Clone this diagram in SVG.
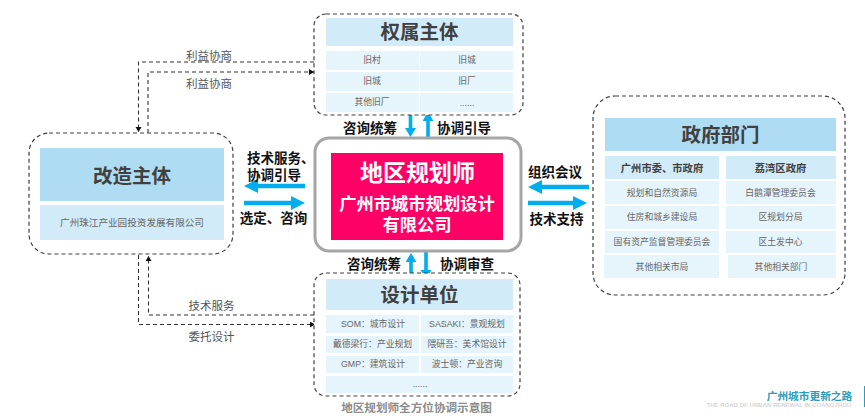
<svg xmlns="http://www.w3.org/2000/svg" width="865" height="420" viewBox="0 0 865 420">
<style>
text{font-family:"Liberation Sans","Noto Sans CJK SC",sans-serif;text-anchor:middle}
.box{fill:#fff;stroke:#404040;stroke-width:1.2;stroke-dasharray:4 3}
.h1{fill:#aedcf3}.h2{fill:#d2ebf8}.c{fill:#e6f4fc}
.t1{font-size:19.500px;font-weight:700;fill:#404040}
.t2{font-size:10.300px;font-weight:700;fill:#404040}
.t3{font-size:8.800px;fill:#666}
.lb{font-size:13.500px;font-weight:700;fill:#111}
.st{text-anchor:start}
.dl{font-size:11.500px;fill:#555}
.dash{fill:none;stroke:#333;stroke-width:1.1;stroke-dasharray:4 3}
.bl{fill:none;stroke:#00aeef;stroke-width:4.500}
.bs{fill:none;stroke:#00aeef;stroke-width:3.600}
</style>
<defs>
<marker id="d" markerWidth="7" markerHeight="7" refX="5" refY="3" orient="auto" markerUnits="userSpaceOnUse"><path d="M0 0L5 3L0 6Z" fill="#111"/></marker>
<marker id="b" markerWidth="15" markerHeight="14" refX="1" refY="7" orient="auto" markerUnits="userSpaceOnUse"><path d="M0 0L14 7L0 14Z" fill="#00aeef"/></marker>
<marker id="s" markerWidth="10" markerHeight="12" refX="1" refY="5.500" orient="auto" markerUnits="userSpaceOnUse"><path d="M0 0L9 5.500L0 11Z" fill="#00aeef"/></marker>
</defs>
<g id="connectors">
<path class="dash" marker-end="url(#d)" d="M314 62H138.500V132"/>
<path class="dash" marker-end="url(#d)" d="M148 133V72H314"/>
<path class="dash" marker-end="url(#d)" d="M314 315H148.500V256"/>
<path class="dash" marker-end="url(#d)" d="M138.500 255V324.500H315"/>
<path class="bs" marker-end="url(#s)" d="M410.500 112V129"/>
<path class="bs" marker-end="url(#s)" d="M428 138V120"/>
<path class="bs" marker-end="url(#s)" d="M411 277V261"/>
<path class="bs" marker-end="url(#s)" d="M426 251V271"/>
<path class="bl" marker-end="url(#b)" d="M305 186H257"/>
<path class="bl" marker-end="url(#b)" d="M244 203H292"/>
<path class="bl" marker-end="url(#b)" d="M589 187H541"/>
<path class="bl" marker-end="url(#b)" d="M528 203H574"/>
</g>
<g id="node-owner">
<rect class="box" x="314" y="14" width="209" height="101" rx="12"/>
<rect class="h2" x="326" y="18" width="187" height="28"/>
<text class="t1" x="419.500" y="39">权属主体</text>
<rect class="c" x="326" y="51" width="93" height="19"/><rect class="c" x="420" y="51" width="93" height="19"/>
<rect class="c" x="326" y="72" width="93" height="19"/><rect class="c" x="420" y="72" width="93" height="19"/>
<rect class="c" x="326" y="93" width="93" height="19"/><rect class="c" x="420" y="93" width="93" height="19"/>
<text class="t3" x="372" y="63">旧村</text><text class="t3" x="467" y="63">旧城</text>
<text class="t3" x="372" y="84">旧城</text><text class="t3" x="467" y="84">旧厂</text>
<text class="t3" x="372" y="105">其他旧厂</text><text class="t3" x="467" y="106">......</text>
</g>
<g id="node-design">
<rect class="box" x="314" y="273" width="206" height="123" rx="12"/>
<rect class="h2" x="326" y="279" width="187" height="31"/>
<text class="t1" x="419.500" y="302">设计单位</text>
<rect class="c" x="326" y="315" width="93" height="18"/><rect class="c" x="421" y="315" width="92" height="18"/>
<rect class="c" x="326" y="336" width="93" height="17"/><rect class="c" x="421" y="336" width="92" height="17"/>
<rect class="c" x="326" y="356" width="93" height="17"/><rect class="c" x="421" y="356" width="92" height="17"/>
<rect class="c" x="326" y="376" width="187" height="17"/>
<text class="t3" x="373" y="327">SOM：城市设计</text><text class="t3" x="467" y="327">SASAKI：景观规划</text>
<text class="t3" x="372.500" y="347">戴德梁行：产业规划</text><text class="t3" x="467" y="347">隈研吾：美术馆设计</text>
<text class="t3" x="373" y="367">GMP：建筑设计</text><text class="t3" x="467" y="367">波士顿：产业咨询</text>
<text class="t3" x="420" y="387">......</text>
</g>
<g id="node-gov">
<rect class="box" x="593" y="96" width="252" height="199" rx="22"/>
<rect class="h1" x="605" y="118" width="231" height="33"/>
<text class="t1" x="720.500" y="142">政府部门</text>
<rect class="h2" x="605" y="156" width="114" height="23"/><rect class="h2" x="726" y="156" width="110" height="23"/>
<text class="t2" x="662" y="172">广州市委、市政府</text><text class="t2" x="780.500" y="172">荔湾区政府</text>
<rect class="c" x="605" y="181" width="114" height="23"/><rect class="c" x="726" y="181" width="110" height="23"/>
<rect class="c" x="605" y="206" width="114" height="23"/><rect class="c" x="726" y="206" width="110" height="23"/>
<rect class="c" x="605" y="231" width="114" height="22"/><rect class="c" x="726" y="231" width="110" height="22"/>
<rect class="c" x="604" y="255" width="115" height="23"/><rect class="c" x="728" y="255" width="108" height="23"/>
<text class="t3" x="662" y="196">规划和自然资源局</text><text class="t3" x="780.500" y="196">白鹅潭管理委员会</text>
<text class="t3" x="662" y="220">住房和城乡建设局</text><text class="t3" x="780.500" y="220">区规划分局</text>
<text class="t3" x="662" y="245">国有资产监督管理委员会</text><text class="t3" x="780.500" y="245">区土发中心</text>
<text class="t3" x="662" y="270">其他相关市局</text><text class="t3" x="781" y="270">其他相关部门</text>
</g>
<g id="node-subject">
<rect class="box" x="29" y="133" width="204" height="121" rx="20"/>
<rect class="h1" x="40" y="148" width="184" height="53"/>
<rect class="h2" x="40" y="205" width="184" height="35"/>
<text class="t1" x="132" y="183">改造主体</text>
<text class="t3" x="132" y="226" style="font-size:9.600px">广州珠江产业园投资发展有限公司</text>
</g>
<g id="node-planner">
<rect x="315" y="138" width="206" height="113" rx="14" fill="#fff" stroke="#a6a6a6" stroke-width="3"/>
<rect x="331" y="153" width="172" height="87" fill="#ff0066"/>
<text x="417.500" y="181" fill="#fff" font-size="23" font-weight="700">地区规划师</text>
<text x="417" y="210" fill="#fff" font-size="17.300" font-weight="700">广州市城市规划设计</text>
<text x="417" y="231" fill="#fff" font-size="17.300" font-weight="700">有限公司</text>
</g>
<g id="labels">
<text class="dl" x="209" y="60">利益协商</text>
<text class="dl" x="209" y="88">利益协商</text>
<text class="dl" x="211.500" y="310">技术服务</text>
<text class="dl" x="211.500" y="341">委托设计</text>
<text class="lb st" x="247" y="163">技术服务、</text>
<text class="lb st" x="247" y="180">协调引导</text>
<text class="lb" x="273.500" y="223">选定、咨询</text>
<text class="lb" x="370" y="133">咨询统筹</text>
<text class="lb" x="464" y="133">协调引导</text>
<text class="lb" x="374" y="269">咨询统筹</text>
<text class="lb" x="467" y="269">协调审查</text>
<text class="lb" x="555" y="177">组织会议</text>
<text class="lb" x="556.500" y="224">技术支持</text>
<text x="416.500" y="412" font-size="11.600" font-weight="700" fill="#8c8c8c">地区规划师全方位协调示意图</text>
<text x="809.500" y="400" font-size="10.700" font-weight="700" fill="#2a9dbb">广州城市更新之路</text>
<text x="779" y="407" font-size="6" font-weight="700" fill="#d5d5d5">THE ROAD OF URBAN RENEWAL IN GUANGZHOU</text>
</g>
<rect id="edge-bar" x="864" y="386" width="1" height="21" fill="#2a9dbb"/>
</svg>
